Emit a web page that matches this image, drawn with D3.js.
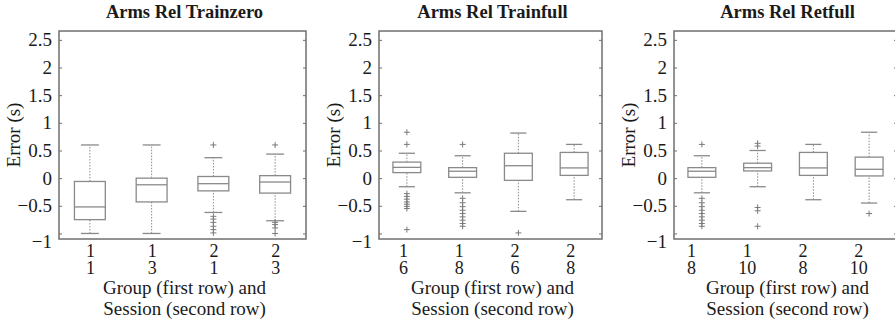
<!DOCTYPE html>
<html>
<head>
<meta charset="utf-8">
<script src="https://cdn.jsdelivr.net/npm/d3@7"></script>
<style>
  body { margin: 0; background: #fff; }
  svg { display: block; }
  text { font-family: "Liberation Serif", "DejaVu Serif", serif; fill: #1a1a1a; }
</style>
</head>
<body>
<svg id="chart" width="895" height="325"></svg>
<script>
// panel titles and category labels
const titles = ["Arms Rel Trainzero", "Arms Rel Trainfull", "Arms Rel Retfull"];
const groupLabels = [["1", "1", "2", "2"], ["1", "1", "2", "2"], ["1", "1", "2", "2"]];
const sessionLabels = [["1", "3", "1", "3"], ["6", "8", "6", "8"], ["8", "10", "8", "10"]];
const yTicks = [-1, -0.5, 0, 0.5, 1, 1.5, 2, 2.5];

// box stats per category: [lower whisker, q1, median, q3, upper whisker]
const trainzeroStats = [
  [-1.0, -0.75, -0.52, -0.06, 0.60],
  [-1.0, -0.43, -0.12, 0.0, 0.60],
  [-0.62, -0.23, -0.10, 0.03, 0.37],
  [-0.77, -0.27, -0.07, 0.045, 0.435]
];
const trainzeroOutliers = [
  [],
  [],
  [0.60, -0.69, -0.74, -0.80, -0.87, -0.93, -0.99],
  [0.60, -0.80, -0.84, -0.90, -1.0]
];

const trainfullStats = [
  [-0.155, 0.10, 0.195, 0.29, 0.45],
  [-0.265, 0.015, 0.125, 0.19, 0.405],
  [-0.60, -0.04, 0.225, 0.45, 0.815],
  [-0.39, 0.05, 0.185, 0.465, 0.61]
];
const trainfullOutliers = [
  [0.83, 0.61, -0.28, -0.33, -0.38, -0.43, -0.47, -0.51, -0.55, -0.93],
  [0.61, -0.365, -0.445, -0.515, -0.58, -0.64, -0.70, -0.76, -0.82, -0.87],
  [-0.99],
  []
];

const retfullStats = [
  [-0.265, 0.015, 0.125, 0.19, 0.405],
  [-0.155, 0.13, 0.19, 0.27, 0.50],
  [-0.39, 0.05, 0.185, 0.465, 0.61],
  [-0.45, 0.04, 0.16, 0.38, 0.83]
];
const retfullOutliers = [
  [0.61, -0.365, -0.445, -0.515, -0.58, -0.64, -0.70, -0.76, -0.82, -0.87],
  [0.63, 0.58, -0.53, -0.59, -0.87],
  [],
  [-0.64]
];

const panels = [
  { title: titles[0], stats: trainzeroStats, outliers: trainzeroOutliers, left: 59, width: 247, labelShift: 0 },
  { title: titles[1], stats: trainfullStats, outliers: trainfullOutliers, left: 379, width: 223, labelShift: -4 },
  { title: titles[2], stats: retfullStats, outliers: retfullOutliers, left: 674, width: 223, labelShift: -11 }
];

const plotTop = 31, plotBottom = 239;
const frameColor = "#6f6f6f", boxColor = "#8a8a8a", outColor = "#7a7a7a";

const svg = d3.select("#chart");

const y = d3.scaleLinear()
  .domain([-1.1, 2.66])
  .range([plotBottom, plotTop]);

const fmt = d => String(d).replace("-", "\u2212");

panels.forEach((p, pi) => {
  const g = svg.append("g").attr("transform", `translate(${p.left},0)`);
  const idx = d3.range(p.stats.length);

  const x = d3.scalePoint()
    .domain(idx)
    .range([0, p.width])
    .padding(0.5);
  const boxW = x.step() * 0.5;
  const capW = boxW * 0.58;

  // frame
  g.append("rect")
    .attr("x", 0).attr("y", plotTop)
    .attr("width", p.width).attr("height", plotBottom - plotTop)
    .attr("fill", "none")
    .attr("stroke", frameColor)
    .attr("stroke-width", 1.5);

  // y axis, ticks pointing inward
  const yAxis = g.append("g")
    .call(d3.axisLeft(y).tickValues(yTicks).tickSize(-3).tickPadding(7).tickFormat(fmt));
  yAxis.select(".domain").remove();
  yAxis.selectAll(".tick line").attr("stroke", frameColor);
  yAxis.selectAll(".tick text")
    .attr("font-size", 19)
    .attr("fill", "#1a1a1a");
  yAxis.selectAll(".tick text").filter(d => d === -1).attr("dy", "0.72em");

  const yAxisR = g.append("g")
    .attr("transform", `translate(${p.width},0)`)
    .call(d3.axisRight(y).tickValues(yTicks).tickSize(-3).tickFormat(""));
  yAxisR.select(".domain").remove();
  yAxisR.selectAll(".tick line").attr("stroke", frameColor);

  // x axis: group on the first row, session on the second
  const xAxis = g.append("g")
    .attr("transform", `translate(0,${plotBottom})`)
    .call(d3.axisBottom(x).tickSize(0).tickFormat(""));
  xAxis.select(".domain").remove();
  const tickText = xAxis.selectAll(".tick text")
    .attr("font-size", 18)
    .attr("fill", "#1a1a1a")
    .attr("dy", null)
    .attr("y", null);
  tickText.append("tspan")
    .attr("x", p.labelShift).attr("y", 18)
    .text(i => groupLabels[pi][i]);
  tickText.append("tspan")
    .attr("x", p.labelShift).attr("y", 35)
    .text(i => sessionLabels[pi][i]);

  // boxes
  const box = g.selectAll(".box")
    .data(p.stats)
    .enter().append("g")
    .attr("class", "box")
    .attr("transform", (d, i) => `translate(${x(i)},0)`);

  box.append("line")
    .attr("y1", d => y(d[3])).attr("y2", d => y(d[4]))
    .attr("stroke", boxColor).attr("stroke-dasharray", "1.5,1.5");
  box.append("line")
    .attr("y1", d => y(d[0])).attr("y2", d => y(d[1]))
    .attr("stroke", boxColor).attr("stroke-dasharray", "1.5,1.5");

  box.append("line")
    .attr("x1", -capW / 2).attr("x2", capW / 2)
    .attr("y1", d => y(d[4])).attr("y2", d => y(d[4]))
    .attr("stroke", boxColor).attr("stroke-width", 1.3);
  box.append("line")
    .attr("x1", -capW / 2).attr("x2", capW / 2)
    .attr("y1", d => y(d[0])).attr("y2", d => y(d[0]))
    .attr("stroke", boxColor).attr("stroke-width", 1.3);

  box.append("rect")
    .attr("x", -boxW / 2)
    .attr("width", boxW)
    .attr("y", d => y(d[3]))
    .attr("height", d => y(d[1]) - y(d[3]))
    .attr("fill", "#fff")
    .attr("stroke", boxColor)
    .attr("stroke-width", 1.3);

  box.append("line")
    .attr("x1", -boxW / 2).attr("x2", boxW / 2)
    .attr("y1", d => y(d[2])).attr("y2", d => y(d[2]))
    .attr("stroke", boxColor).attr("stroke-width", 1.3);

  // outliers as plus marks
  const pts = [];
  p.outliers.forEach((arr, i) => arr.forEach(v => pts.push({ i, v })));
  g.selectAll(".outlier")
    .data(pts)
    .enter().append("path")
    .attr("class", "outlier")
    .attr("d", d => {
      const cx = x(d.i), cy = y(d.v);
      return `M${cx - 3},${cy}H${cx + 3}M${cx},${cy - 3}V${cy + 3}`;
    })
    .attr("stroke", outColor)
    .attr("stroke-width", 1);

  // title
  g.append("text")
    .attr("x", p.width / 2 + 2)
    .attr("y", 18)
    .attr("text-anchor", "middle")
    .attr("font-size", 18.5)
    .attr("font-weight", "bold")
    .text(p.title);

  // axis labels
  g.append("text")
    .attr("transform", `translate(-39,${(plotTop + plotBottom) / 2}) rotate(-90)`)
    .attr("text-anchor", "middle")
    .attr("font-size", 19)
    .text("Error (s)");

  const xl = g.append("text")
    .attr("text-anchor", "middle")
    .attr("font-size", 19);
  xl.append("tspan").attr("x", p.width / 2 + 2).attr("y", 294).text("Group (first row) and");
  xl.append("tspan").attr("x", p.width / 2 + 2).attr("y", 315).text("Session (second row)");
});
</script>
</body>
</html>
